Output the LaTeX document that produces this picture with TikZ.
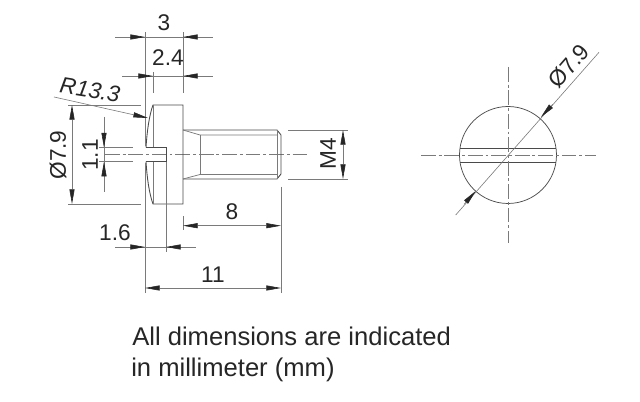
\documentclass[tikz,border=0pt]{standalone}
\usepackage{fontspec}
\setmainfont{Liberation Sans}
\usetikzlibrary{arrows.meta}
\definecolor{ink}{HTML}{4A4A4A}
\definecolor{thin}{HTML}{7A7A7A}
\definecolor{txt}{HTML}{262626}
\tikzset{
  outline/.style={draw=ink,line width=0.65pt},
  inner edge/.style={draw=thin,line width=0.55pt},
  dimen/.style={draw=thin,line width=0.45pt},
  tipped/.style={dimen,-{Triangle[length=11pt,width=3.8pt,color=txt]}},
  both tipped/.style={dimen,{Triangle[length=11pt,width=3.8pt,color=txt]}-{Triangle[length=11pt,width=3.8pt,color=txt]}},
  center line/.style={draw=thin,line width=0.5pt,dash pattern=on 11pt off 2.2pt on 2.2pt off 2.2pt},
  lab/.style={text=txt,font=\fontsize{17pt}{20pt}\selectfont,inner sep=0pt},
  note/.style={text=txt,font=\fontsize{19.2pt}{23pt}\selectfont,inner sep=0pt,anchor=base west}
}
\begin{document}
\begin{tikzpicture}[x=0.75pt,y=-0.75pt]
\useasboundingbox (0,0) rectangle (640,402);
% side view: centre line
\draw[center line] (105,154.5) -- (307,154.5);
% side view: head
\draw[outline] (146,147.5) .. controls (147,132) and (149,116) .. (153,105) -- (183,105) -- (183,204) -- (153,204) .. controls (149,193) and (147,177) .. (146,161.7);
\draw[outline] (146,147.5) -- (166,147.5) -- (166,161.7) -- (146,161.7);
\draw[inner edge] (153,105) -- (153,147.5);
\draw[inner edge] (153,161.7) -- (153,204);
% side view: shank
\draw[outline] (183,130) -- (277,130) -- (281,135) -- (281,174) -- (277,179) -- (183,179);
\draw[inner edge] (183,130) -- (200,135) -- (277,135);
\draw[inner edge] (183,179) -- (200,174.5) -- (277,174.5);
\draw[inner edge] (200,135) -- (200,174.5);
\draw[inner edge] (277,130) -- (277,179);
% extension lines
\draw[dimen] (145,32) -- (145,146);
\draw[dimen] (145,163) -- (145,293);
\draw[dimen] (183,32) -- (183,93);
\draw[dimen] (153,72) -- (153,93);
\draw[dimen] (68,105) -- (141,105);
\draw[dimen] (68,204) -- (141,204);
\draw[dimen] (99,147.5) -- (133,147.5);
\draw[dimen] (99,161.7) -- (133,161.7);
\draw[dimen] (288,130) -- (348,130);
\draw[dimen] (288,179) -- (348,179);
\draw[dimen] (281,187) -- (281,293);
\draw[dimen] (183,216) -- (183,230);
\draw[dimen] (166,162) -- (166,252);
% dimension 3
\draw[dimen] (115,37) -- (213,37);
\draw[tipped] (130,37) -- (145,37);
\draw[tipped] (198,37) -- (183,37);
\node[lab] (d3) at (164,23) {3};
% dimension 2.4
\draw[dimen] (122,76) -- (213,76);
\draw[tipped] (138,76) -- (153,76);
\draw[tipped] (198,76) -- (183,76);
\node[lab] (d24) at (168,58) {2.4};
% radius
\draw[tipped] (54,97) -- (148,118);
\node[lab,rotate=-9,font=\fontsize{17pt}{20pt}\selectfont\itshape] (r) at (90,90) {R13.3};
% diameter side
\draw[both tipped] (72,105) -- (72,204);
\node[lab,rotate=90] (dia) at (58,155) {Ø7.9};
% slot 1.1
\draw[dimen] (104,117) -- (104,192);
\draw[tipped] (104,132) -- (104,147.5);
\draw[tipped] (104,177) -- (104,161.7);
\node[lab,rotate=90] (d11) at (90,155) {1.1};
% M4
\draw[both tipped] (343,130) -- (343,179);
\node[lab,rotate=90] (m4) at (328,154) {M4};
% dimension 8
\draw[both tipped] (183,225.7) -- (281,225.7);
\node[lab] (d8) at (232,212) {8};
% dimension 1.6
\draw[dimen] (115,247) -- (196,247);
\draw[tipped] (130,247) -- (145,247);
\draw[tipped] (181,247) -- (166,247);
\node[lab] (d16) at (115,233) {1.6};
% dimension 11
\draw[both tipped] (145,288) -- (281,288);
\node[lab] (d11b) at (213,275) {11};
% end view
\draw[outline,line width=0.55pt] (508,155) circle [radius=48.5*0.75pt];
\draw[inner edge,draw=ink] (460.3,148) -- (555.7,148);
\draw[inner edge,draw=ink] (460.3,162.3) -- (555.7,162.3);
\draw[center line] (421,155) -- (596,155);
\draw[center line] (508,67) -- (508,243);
\draw[dimen] (455.7,215) -- (599,52.3);
\draw[tipped] (552.7,104.4) -- (541,117);
\draw[tipped] (464,204.4) -- (475.7,191);
\node[lab,rotate=49] (dia2) at (569,66) {Ø7.9};
% note
\node[note] (n1) at (132,346) {All dimensions are indicated};
\node[note] (n2) at (131,377) {in millimeter (mm)};
\end{tikzpicture}
\end{document}
